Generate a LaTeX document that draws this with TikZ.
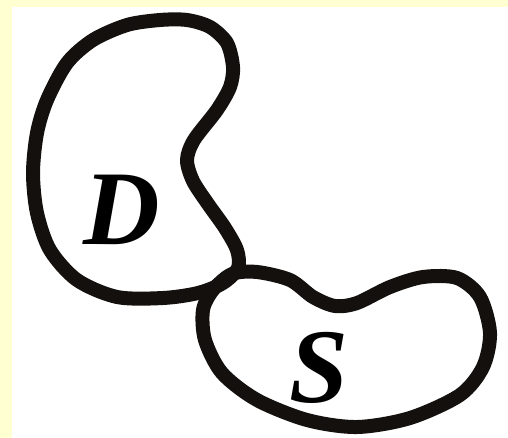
\documentclass[tikz,border=0pt]{standalone}
\usepackage{fontspec}
\setmainfont{Liberation Serif}
\definecolor{SetYellow}{RGB}{255,255,210}
\definecolor{SetInk}{RGB}{20,16,14}
\tikzset{
  set/outline/.style={
    draw=SetInk,
    line width=7pt,
    line join=round
  },
  set/label/.style={
    text=black,
    font=\fontsize{53}{53}\selectfont\bfseries\itshape
  }
}
\begin{document}
\begin{tikzpicture}[x=0.5pt,y=-0.5pt]
  \useasboundingbox (0,0) rectangle (508,438);
  \fill[SetYellow] (0,0) rectangle (508,438);
  \fill[white] (12,7) rectangle (508,438);
  % set D
  \draw[set/outline] plot[smooth cycle] coordinates {
    (160,20) (187,20) (210,27) (227,43) (233,67) (230,87) (217,110)
    (194,140) (187,160) (193,181) (208,204) (225,228) (237,250) (238,268)
    (223,283) (198,293) (163,298) (117,297) (77,280) (50,250) (37,213)
    (33,173) (37,133) (47,100) (67,63) (93,40) (127,25)};
  % set S
  \draw[set/outline] plot[smooth cycle] coordinates {
    (257,272) (290,280) (313,297) (335,306) (357,303) (390,287) (423,277)
    (457,278) (480,297) (490,333) (483,367) (460,395) (410,418) (357,427)
    (307,420) (257,400) (222,373) (205,340) (203,310) (213,290) (232,274)};
  \node[set/label] (setD) at (122,210) {D};
  \node[set/label] (setS) at (319,368) {S};
\end{tikzpicture}
\end{document}
